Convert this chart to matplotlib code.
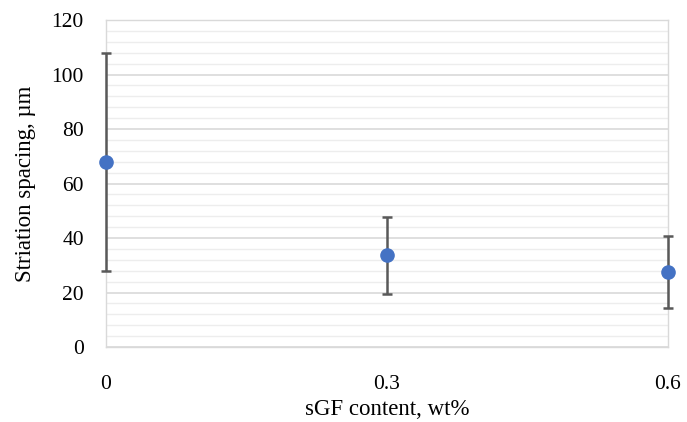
import matplotlib
matplotlib.use("Agg")
import matplotlib.pyplot as plt
from matplotlib.ticker import MultipleLocator

plt.rcParams['font.family'] = ['Liberation Serif', 'DejaVu Serif']

content = [0, 0.3, 0.6]
content_labels = ['0', '0.3', '0.6']
spacing = [67.8, 33.6, 27.4]
spacing_err = [40.0, 14.0, 13.2]

fig = plt.figure(figsize=(6.87, 4.22), dpi=100)
ax = fig.add_axes([0.1543, 0.1777, 0.8180, 0.7749])

_, caps, bars = ax.errorbar(content, spacing, yerr=spacing_err, fmt='o', color='#4472C4',
                            markersize=9.5, ecolor='#595959', elinewidth=1.8, capsize=3.5,
                            capthick=1.8, zorder=3, clip_on=False)
for c in caps:
    c.set_clip_on(False)
for b in bars:
    b.set_clip_on(False)

ax.set_xlim(0, 0.6)
ax.set_ylim(0, 120)
ax.set_xticks(content)
ax.set_xticklabels(content_labels)
ax.yaxis.set_major_locator(MultipleLocator(20))
ax.yaxis.set_minor_locator(MultipleLocator(4))
ax.grid(True, which='major', axis='y', color='#D9D9D9', linewidth=1.2)
ax.grid(True, which='minor', axis='y', color='#EDEDED', linewidth=1.0)
ax.set_axisbelow(True)

for s in ax.spines.values():
    s.set_color('#D9D9D9')
    s.set_linewidth(1.0)

ax.tick_params(axis='both', which='both', length=0, labelsize=15.5, colors='black')
ax.tick_params(axis='x', pad=20)
ax.tick_params(axis='y', pad=16)

ax.set_xlabel('sGF content, wt%', fontsize=16.5, labelpad=4)
ax.set_ylabel('Striation spacing, µm', fontsize=16.5, labelpad=11)

fig.savefig('out.png', dpi=100)
